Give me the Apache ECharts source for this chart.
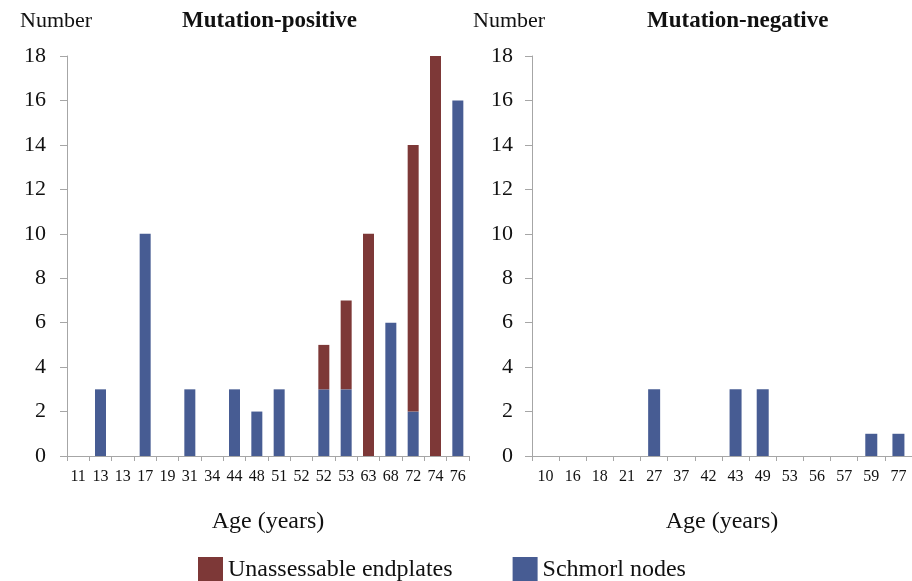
<!DOCTYPE html>
<html><head><meta charset="utf-8">
<script src="https://cdn.jsdelivr.net/npm/echarts@6/dist/echarts.min.js"></script>
<style>html,body{margin:0;padding:0;background:#fff}#c{width:912px;height:581px}</style>
</head><body><div id="c"></div>
<script>
const posAges = ['11','13','13','17','19','31','34','44','48','51','52','52','53','63','68','72','74','76'];
const posSchmorl = [0,3,0,10,0,3,0,3,2,3,0,3,3,0,6,2,0,16];
const posUnassess = [0,0,0,0,0,0,0,0,0,0,0,2,4,10,0,12,18,0];
const negAges = ['10','16','18','21','27','37','42','43','49','53','56','57','59','77'];
const negSchmorl = [0,0,0,0,3,0,0,3,3,0,0,0,1,1];
const negUnassess = [0,0,0,0,0,0,0,0,0,0,0,0,0,0];
const yTicks = [0,2,4,6,8,10,12,14,16,18];

const RED = '#7d3837', BLUE = '#475c93';
const FONT = '"Liberation Serif","Times New Roman",serif';
const axisGray = '#a6a6a6';

function xAx(idx, data){
  return {type:'category', gridIndex:idx, data:data, boundaryGap:true,
    axisLine:{lineStyle:{color:axisGray,width:1}},
    axisTick:{show:true, alignWithLabel:false, length:5, lineStyle:{color:axisGray}},
    axisLabel:{color:'#111', fontFamily:FONT, fontSize:16, margin:13, interval:0},
    name:'Age (years)', nameLocation:'middle', nameGap:54,
    nameTextStyle:{color:'#111', fontFamily:FONT, fontSize:24}};
}
function yAx(idx, margin){
  return {type:'value', gridIndex:idx, min:yTicks[0], max:yTicks[yTicks.length-1], interval:2,
    axisLine:{show:true, lineStyle:{color:axisGray}},
    axisTick:{show:true, length:7, lineStyle:{color:axisGray}},
    splitLine:{show:false},
    axisLabel:{color:'#111', fontFamily:FONT, fontSize:22, margin:margin}};
}
const chart = echarts.init(document.getElementById('c'));
chart.setOption({
  animation:false,
  title:[
    {text:'Number', left:15, top:5, textStyle:{fontFamily:FONT, fontSize:22, fontWeight:'normal', color:'#111'}},
    {text:'Mutation-positive', left:177, top:5, textStyle:{fontFamily:FONT, fontSize:23, fontWeight:'bold', color:'#111'}},
    {text:'Number', left:468, top:5, textStyle:{fontFamily:FONT, fontSize:22, fontWeight:'normal', color:'#111'}},
    {text:'Mutation-negative', left:642, top:5, textStyle:{fontFamily:FONT, fontSize:23, fontWeight:'bold', color:'#111'}}
  ],
  legend:{bottom:-6, left:193, itemWidth:25, itemHeight:25, itemGap:60, icon:'rect',
    textStyle:{fontFamily:FONT, fontSize:24, color:'#111'},
    data:['Unassessable endplates','Schmorl nodes']},
  grid:[
    {left:67, right:443, top:56, bottom:125, containLabel:false},
    {left:532, right:-2, top:56, bottom:125, containLabel:false}
  ],
  xAxis:[xAx(0,posAges), xAx(1,negAges)],
  yAxis:[yAx(0,21), yAx(1,19)],
  series:[
    {name:'Schmorl nodes', type:'bar', xAxisIndex:0, yAxisIndex:0, stack:'p', data:posSchmorl, barWidth:11, itemStyle:{color:BLUE}},
    {name:'Unassessable endplates', type:'bar', xAxisIndex:0, yAxisIndex:0, stack:'p', data:posUnassess, barWidth:11, itemStyle:{color:RED}},
    {name:'Schmorl nodes', type:'bar', xAxisIndex:1, yAxisIndex:1, stack:'n', data:negSchmorl, barWidth:12, itemStyle:{color:BLUE}},
    {name:'Unassessable endplates', type:'bar', xAxisIndex:1, yAxisIndex:1, stack:'n', data:negUnassess, barWidth:12, itemStyle:{color:RED}}
  ]
});
</script></body></html>
